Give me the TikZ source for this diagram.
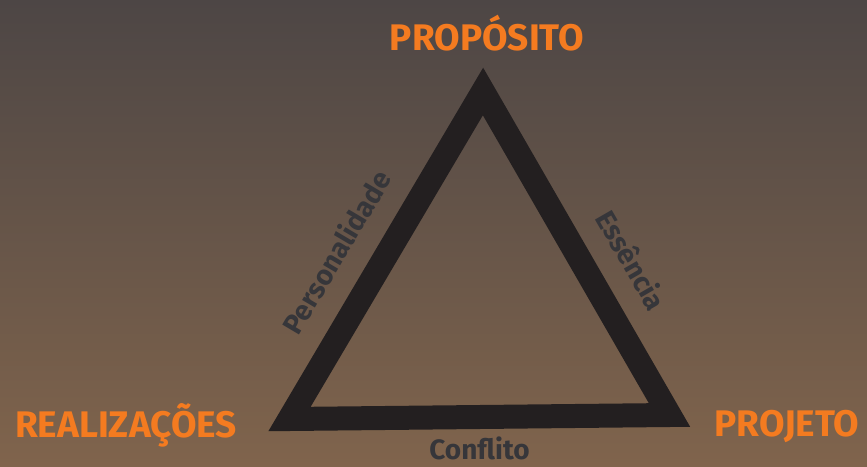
\documentclass[tikz,border=0pt]{standalone}
\usepackage{fontspec}
\setmainfont{Fira Sans}
\usepackage{tikz}
\usetikzlibrary{positioning}
\usetikzlibrary{calc}
\definecolor{bgtop}{HTML}{4D4645}
\definecolor{bgbottom}{HTML}{80644C}
\definecolor{laranja}{HTML}{F47B20}
\definecolor{escuro}{HTML}{231F20}
\definecolor{rotulo}{HTML}{36363A}
\tikzset{
    vertice/.style = {text=laranja, font=\fontsize{37}{40}\selectfont\bfseries, inner sep=0pt},
    lado/.style = {text=rotulo, font=\fontsize{28}{32}\selectfont\bfseries, inner sep=0pt},
    borda/.style = {draw=escuro, line width=24pt, miter limit=10, line join=miter}}
\begin{document}
\begin{tikzpicture}[x=1pt, y=-1pt]
    \useasboundingbox (0,0) rectangle (867,466);
    \shade[top color=bgtop, bottom color=bgbottom] (0,0) rectangle (867,466);
    \coordinate (topo) at (483,91.5);
    \coordinate (esq) at (289.5,419);
    \coordinate (dir) at (669.5,415);
    \draw[borda] (topo) -- (esq) -- (dir) -- cycle;
    \node (proposito) [vertice] at (487,33) {PROPÓSITO};
    \node (realizacoes) [vertice] at (126,425) {REALIZAÇÕES};
    \node (projeto) [vertice] at (787,426) {PROJETO};
    \path (esq) -- (topo) node (personalidade) [lado, pos=0.44, sloped, above=33pt] {Personalidade};
    \path (topo) -- (dir) node (essencia) [lado, pos=0.59, sloped, above=33pt] {Essência};
    \node (conflito) [lado, below=20pt of $(esq)!0.5!(dir)$] {Conflito};
\end{tikzpicture}
\end{document}
